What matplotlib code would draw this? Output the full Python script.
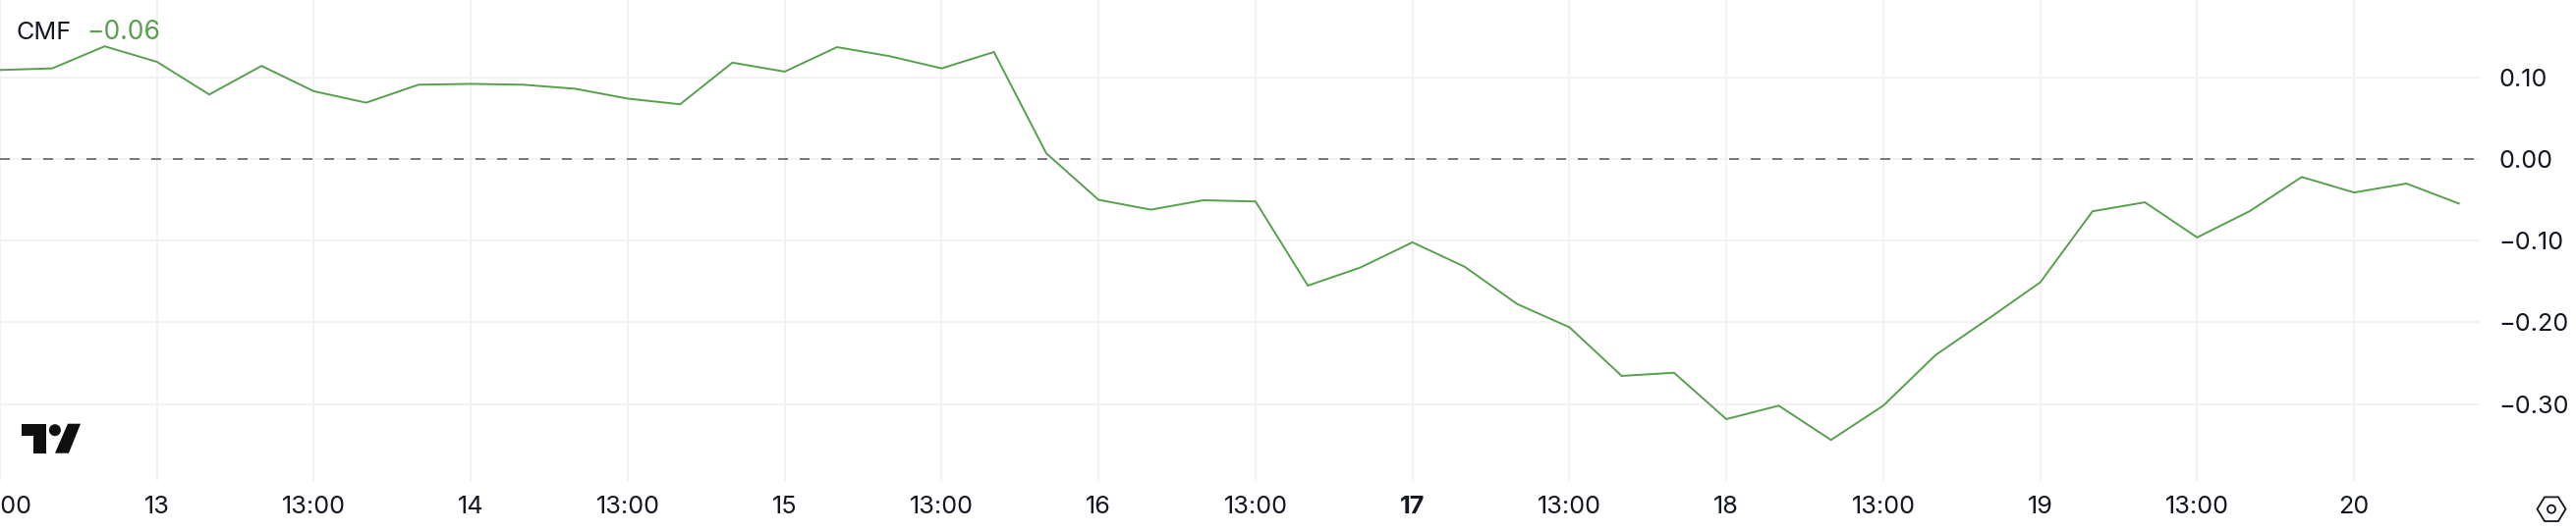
import numpy as np
import matplotlib
matplotlib.use("Agg")
import matplotlib.pyplot as plt
from matplotlib.patches import Polygon, Ellipse, Circle
from matplotlib.transforms import Affine2D

cmf_values = [0.109, 0.111, 0.138, 0.119, 0.079, 0.114, 0.083, 0.069, 0.091, 0.092,
              0.091, 0.086, 0.074, 0.067, 0.118, 0.107, 0.137, 0.126, 0.111, 0.131,
              0.007, -0.050, -0.062, -0.0505, -0.052, -0.155, -0.133, -0.102, -0.132, -0.1775,
              -0.206, -0.2656, -0.2617, -0.3185, -0.302, -0.344, -0.302, -0.240, -0.196, -0.151,
              -0.064, -0.053, -0.096, -0.064, -0.022, -0.041, -0.030, -0.0545]
x_labels = ["13:00", "13", "13:00", "14", "13:00", "15", "13:00", "16", "13:00",
            "17", "13:00", "18", "13:00", "19", "13:00", "20"]
y_ticks = [0.10, 0.00, -0.10, -0.20, -0.30]
y_labels = ["0.10", "0.00", "\u22120.10", "\u22120.20", "\u22120.30"]
indicator_name = "CMF"
indicator_value = "\u22120.06"

W, H = 2622, 542
GREEN = "#57A04E"
INK = "#131722"
GRID = "#F2F2F3"
plt.rcParams["font.family"] = ["Inter", "DejaVu Sans"]

fig = plt.figure(figsize=(W / 100, H / 100), dpi=100, facecolor="white")
ax = fig.add_axes([0, 1 - 490 / H, 2524 / W, 490 / H])
ax.set_facecolor("white")
for s in ax.spines.values():
    s.set_visible(False)

x = np.arange(len(cmf_values))
PX_PER_BAR = 53.29
ax.set_xlim(2 / PX_PER_BAR, (2524 + 2) / PX_PER_BAR)
ax.set_ylim(-328 / 832, 162 / 832)
ax.grid(True, color=GRID, linewidth=1.44, zorder=0)
ax.set_axisbelow(True)
ax.axhline(0, color="#787B86", linewidth=1.44, dashes=(10 / 2, 12 / 2), zorder=2)
ax.plot(x, cmf_values, color=GREEN, linewidth=1.4, solid_joinstyle="miter", zorder=3)

ax.set_xticks(x[::3][:len(x_labels)])
ax.set_xticklabels(x_labels)
ax.yaxis.tick_right()
ax.set_yticks(y_ticks)
ax.set_yticklabels(y_labels, ha="left")
ax.tick_params(axis="both", length=0, labelsize=18.2, labelcolor=INK)
ax.tick_params(axis="y", pad=13.7)
ax.tick_params(axis="x", pad=11)
for lab in ax.get_xticklabels():
    if lab.get_text() == "17":
        lab.set_fontweight("bold")

px = Affine2D().scale(1 / W, -1 / H).translate(0, 1) + fig.transFigure
fig.text(17, 40, indicator_name, transform=px, fontsize=18.2, color=INK, va="baseline", ha="left")
fig.text(88, 40, indicator_value, transform=px, fontsize=19, color=GREEN, va="baseline", ha="left")

logo = "#0F0F0F"
fig.add_artist(Polygon([(21.5, 431.7), (46.5, 431.7), (46.5, 461.7), (34.4, 461.7), (34.4, 443.5), (21.5, 443.5)],
                       closed=True, fc=logo, ec="none", transform=px))
fig.add_artist(Ellipse((55.9, 438.2), 12, 12, fc=logo, ec="none", transform=px))
fig.add_artist(Polygon([(69, 431.7), (82, 431.7), (70, 461.7), (56, 461.7)], closed=True, fc=logo, ec="none", transform=px))

cx, cy = 2597, 518.7
fig.add_artist(Polygon([(cx - 14.5, cy), (cx - 7, cy - 12.3), (cx + 7, cy - 12.3), (cx + 14.5, cy), (cx + 7, cy + 12.3), (cx - 7, cy + 12.3)],
                       closed=True, fc="none", ec=INK, lw=1.3, transform=px))
fig.add_artist(Circle((cx, cy), 4, fc="none", ec=INK, lw=1.3, transform=px))

fig.savefig("out.png", dpi=100, facecolor="white")
